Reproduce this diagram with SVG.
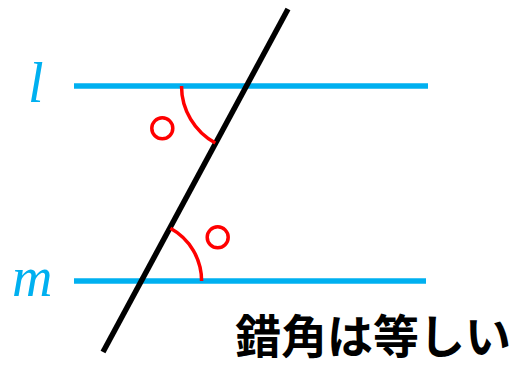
<svg xmlns="http://www.w3.org/2000/svg" width="521" height="365" viewBox="0 0 521 365">
<style>
.par{stroke:#00b0f0;stroke-width:5.5;fill:none}
.tr{stroke:#000;stroke-width:5.5;fill:none}
.red{stroke:#ff0000;stroke-width:3.5;fill:none}
.lab{font-family:"Liberation Serif",serif;font-style:italic;fill:#00b0f0;font-size:56px}
.cap{font-family:"Noto Sans CJK JP",sans-serif;font-weight:bold;font-size:46px;fill:#000}
</style>
<rect width="521" height="365" fill="#fff"/>
<g id="connectors">
<line id="line-l" class="par" x1="74" y1="86" x2="428" y2="86"/>
<line id="line-m" class="par" x1="74" y1="281" x2="426" y2="281"/>
<line id="transversal" class="tr" x1="288" y1="9" x2="103" y2="352"/>
</g>
<g id="angle-top">
<path class="red" d="M181.5,86 A65,65 0 0 0 215.3,143"/>
<circle class="red" cx="162.3" cy="128.3" r="10.5"/>
</g>
<g id="angle-bottom">
<path class="red" d="M201.6,281 A60,60 0 0 0 170.4,228.3"/>
<circle class="red" cx="217.7" cy="237.3" r="10.5"/>
</g>
<g id="label-l"><text class="lab" x="28" y="102">l</text></g>
<g id="label-m"><text class="lab" x="12" y="296">m</text></g>
<g id="caption"><text class="cap" x="235" y="353">錯角は等しい</text></g>
</svg>
